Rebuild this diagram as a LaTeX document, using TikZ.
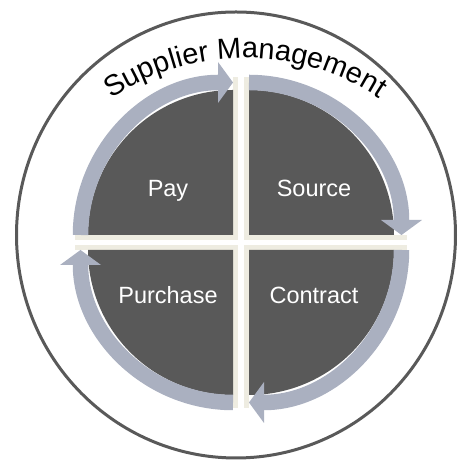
\documentclass[tikz,border=0pt]{standalone}
\usepackage{fontspec}
\setmainfont{Liberation Sans}
\usetikzlibrary{arrows.meta,decorations.text}
\definecolor{darkgrey}{HTML}{595959}
\definecolor{bandgrey}{HTML}{AAB0C0}
\definecolor{cream}{HTML}{EEECE1}

\begin{document}
\begin{tikzpicture}[x=1pt,y=1pt,
    sector/.style={fill=darkgrey},
    strip/.style={fill=cream},
    band/.style={draw=bandgrey,line width=15.5pt,-{Triangle[width=41pt,length=15pt,line width=0pt]}},
    quadtext/.style={text=white,font=\fontsize{23.5}{26}\selectfont,anchor=base}]
    \useasboundingbox (0,0) rectangle (467,462);
    % Define corners
    \coordinate (pay) at (233,227);
    \coordinate (source) at (249,227);
    \coordinate (contract) at (249,212);
    \coordinate (purchase) at (233,212);
    % Outer ring
    \draw[darkgrey,line width=3pt] (236,227) ellipse [x radius=219.5,y radius=223];
    % Quadrants with their arrows
    \foreach \q/\sx/\sy/\a in {pay/-1/1/180,source/1/1/90,contract/1/-1/0,purchase/-1/-1/270} {
        \fill[strip] (\q) ++(0,-5*\sy) rectangle ++(-5*\sx,163*\sy);
        \fill[strip] (\q) ++(-5*\sx,0) rectangle ++(163*\sx,-5*\sy);
        \fill[sector] (\q) -- ++(\a:145) arc[start angle=\a,end angle=\a-90,radius=145] -- cycle;
        \draw[band] (\q) ++(\a:152.5) arc[start angle=\a,end angle=\a-90,radius=152.5];
    }
    % Labels
    \node[quadtext] (paytext) at (168,265) {Pay};
    \node[quadtext] (sourcetext) at (314,265) {Source};
    \node[quadtext] (purchasetext) at (168,158) {Purchase};
    \node[quadtext] (contracttext) at (314,158) {Contract};
    % Title along the ring
    \path[decorate,decoration={text along path,text align=center,
        text={|\fontsize{29}{31}\selectfont|Supplier Management}}]
        (245,162) ++(130:242) arc[start angle=130,end angle=50,radius=242];
\end{tikzpicture}
\end{document}
